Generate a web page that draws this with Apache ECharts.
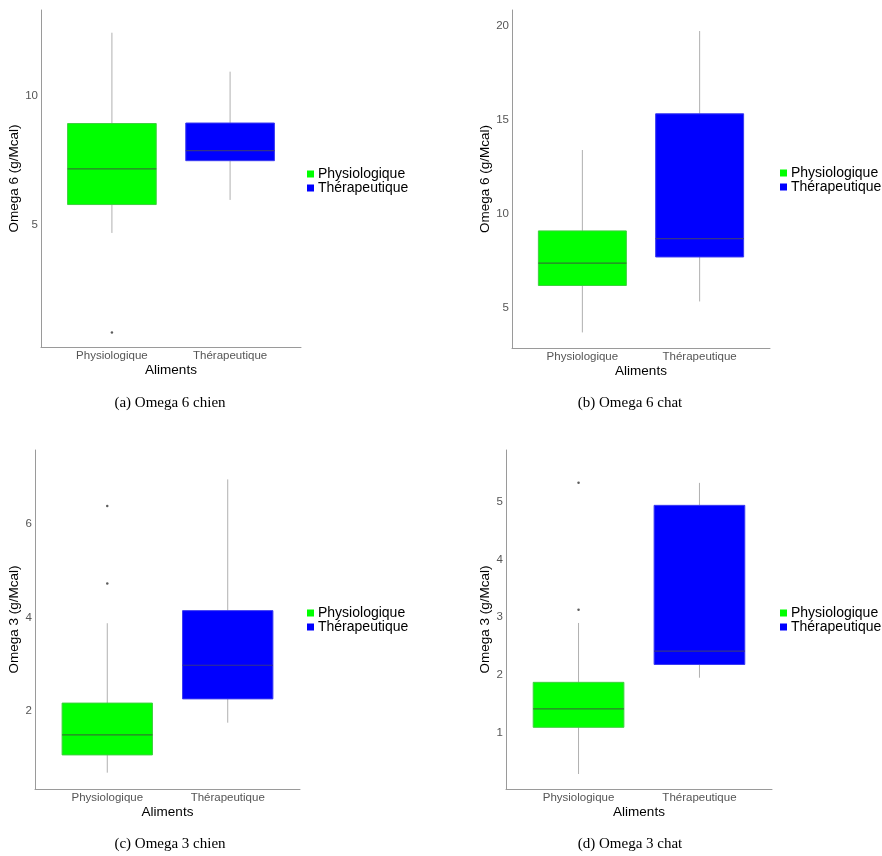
<!DOCTYPE html>
<html>
<head>
<meta charset="utf-8">
<title>Omega 6 / Omega 3</title>
<script src="https://cdn.jsdelivr.net/npm/echarts@6/dist/echarts.min.js"></script>
<style>
  html, body { margin: 0; padding: 0; background: #fff; }
  #chart { width: 882px; height: 856px; }
</style>
</head>
<body>
<div id="chart"></div>
<script>
// catégories d'aliments
const groups = ['Physiologique', 'Thérapeutique']

// stats boxplot : [min, Q1, médiane, Q3, max]
const o6ChienPhysio = [4.69, 5.79, 7.17, 8.93, 12.45]
const o6ChienThera = [5.97, 7.49, 7.88, 8.95, 10.94]
const o6ChienOutliers = [0.83]

const o6ChatPhysio = [3.67, 6.17, 7.36, 9.08, 13.39]
const o6ChatThera = [5.32, 7.69, 8.67, 15.32, 19.73]
const o6ChatOutliers = []

const o3ChienPhysio = [0.68, 1.06, 1.49, 2.17, 3.88]
const o3ChienThera = [1.75, 2.26, 2.98, 4.15, 6.96]
const o3ChienOutliers = [6.39, 4.73]

const o3ChatPhysio = [0.28, 1.09, 1.41, 1.87, 2.90]
const o3ChatThera = [1.95, 2.18, 2.41, 4.94, 5.33]
const o3ChatOutliers = [5.33, 3.13]

// graduations des axes y
const o6ChienTicks = [5, 10]
const o6ChatTicks = [5, 10, 15, 20]
const o3ChienTicks = [2, 4, 6]
const o3ChatTicks = [1, 2, 3, 4, 5]

const captions = ['(a) Omega 6 chien', '(b) Omega 6 chat', '(c) Omega 3 chien', '(d) Omega 3 chat']

const FONT = '"Liberation Sans", Arial, sans-serif'
const GREEN = '#00ff00'
const BLUE = '#0000ff'
const BOX_WIDTH = 0.75

const panels = [
  { physio: o6ChienPhysio, thera: o6ChienThera, outliers: o6ChienOutliers, ticks: o6ChienTicks,
    yName: 'Omega 6 (g/Mcal)', yMin: 0.27, yMax: 13.33,
    grid: { left: 41, top: 10, width: 260, height: 337 }, legend: { left: 307, top: 167 }, caption: [170, 403] },
  { physio: o6ChatPhysio, thera: o6ChatThera, outliers: o6ChatOutliers, ticks: o6ChatTicks,
    yName: 'Omega 6 (g/Mcal)', yMin: 2.84, yMax: 20.85,
    grid: { left: 512, top: 10, width: 258, height: 338 }, legend: { left: 780, top: 166 }, caption: [630, 403] },
  { physio: o3ChienPhysio, thera: o3ChienThera, outliers: o3ChienOutliers, ticks: o3ChienTicks,
    yName: 'Omega 3 (g/Mcal)', yMin: 0.33, yMax: 7.59,
    grid: { left: 35, top: 450, width: 265, height: 339 }, legend: { left: 307, top: 606 }, caption: [170, 844] },
  { physio: o3ChatPhysio, thera: o3ChatThera, outliers: o3ChatOutliers, ticks: o3ChatTicks,
    yName: 'Omega 3 (g/Mcal)', yMin: 0.02, yMax: 5.9,
    grid: { left: 506, top: 450, width: 266, height: 339 }, legend: { left: 780, top: 606 }, caption: [630, 844] },
]

// boîte à moustaches dessinée avec les coordonnées des axes
const renderBox = (params, api) => {
  const x = api.value(0)
  const lo = api.coord([x, api.value(1)])
  const q1 = api.coord([x, api.value(2)])
  const med = api.coord([x, api.value(3)])
  const q3 = api.coord([x, api.value(4)])
  const hi = api.coord([x, api.value(5)])
  const half = api.size([BOX_WIDTH, 0])[0] / 2
  const fill = api.visual('color')
  const isGreen = fill === GREEN
  const whisker = { stroke: '#b0b0b0', lineWidth: 1 }
  return {
    type: 'group',
    children: [
      { type: 'line', shape: { x1: lo[0], y1: lo[1], x2: q1[0], y2: q1[1] }, style: whisker },
      { type: 'line', shape: { x1: q3[0], y1: q3[1], x2: hi[0], y2: hi[1] }, style: whisker },
      {
        type: 'rect',
        shape: { x: q3[0] - half, y: q3[1], width: half * 2, height: q1[1] - q3[1] },
        style: { fill: fill, stroke: isGreen ? '#3fcf3f' : '#3a3af0', lineWidth: 1 },
      },
      {
        type: 'line',
        shape: { x1: med[0] - half, y1: med[1], x2: med[0] + half, y2: med[1] },
        style: { stroke: isGreen ? '#2e7a2e' : '#34348a', lineWidth: 1.2 },
      },
    ],
  }
}

const option = {
  backgroundColor: '#fff',
  animation: false,
  grid: [],
  xAxis: [],
  yAxis: [],
  legend: [],
  series: [],
  graphic: [],
}

panels.forEach((p, i) => {
  option.grid.push(p.grid)
  option.xAxis.push({
    type: 'value',
    gridIndex: i,
    min: 0.4,
    max: 2.6,
    name: 'Aliments',
    nameLocation: 'middle',
    nameGap: 15,
    nameTextStyle: { color: '#000', fontSize: 13.5, fontFamily: FONT },
    axisLine: { show: true, lineStyle: { color: '#9a9a9a', width: 1 } },
    axisTick: { show: false },
    splitLine: { show: false },
    axisLabel: {
      customValues: [1, 2],
      formatter: (v) => groups[Math.round(v) - 1],
      color: '#555',
      fontSize: 11.5,
      fontFamily: FONT,
      margin: 3,
    },
  })
  option.yAxis.push({
    type: 'value',
    gridIndex: i,
    min: p.yMin,
    max: p.yMax,
    name: p.yName,
    nameLocation: 'middle',
    nameGap: 13,
    nameTextStyle: { color: '#000', fontSize: 13.5, fontFamily: FONT },
    axisLine: { show: true, lineStyle: { color: '#9a9a9a', width: 1 } },
    axisTick: { show: false },
    splitLine: { show: false },
    axisLabel: {
      customValues: p.ticks,
      color: '#555',
      fontSize: 11.5,
      fontFamily: FONT,
      margin: 3,
    },
  })
  option.legend.push({
    orient: 'vertical',
    left: p.legend.left,
    top: p.legend.top,
    padding: 0,
    itemGap: 0,
    itemWidth: 7,
    itemHeight: 7,
    icon: 'rect',
    data: groups,
    textStyle: { color: '#000', fontSize: 14, fontFamily: FONT, lineHeight: 14, padding: [0, 0, 0, -1] },
  })
  option.series.push(
    {
      name: groups[0],
      type: 'custom',
      xAxisIndex: i,
      yAxisIndex: i,
      itemStyle: { color: GREEN },
      renderItem: renderBox,
      data: [[1].concat(p.physio)],
    },
    {
      name: groups[1],
      type: 'custom',
      xAxisIndex: i,
      yAxisIndex: i,
      itemStyle: { color: BLUE },
      renderItem: renderBox,
      data: [[2].concat(p.thera)],
    },
    {
      name: 'outliers',
      type: 'scatter',
      xAxisIndex: i,
      yAxisIndex: i,
      symbolSize: 2.5,
      itemStyle: { color: '#333' },
      data: p.outliers.map((v) => [1, v]),
    }
  )
  option.graphic.push({
    type: 'text',
    x: p.caption[0],
    y: p.caption[1],
    style: {
      text: captions[i],
      fill: '#000',
      font: '15px "Liberation Serif", "Times New Roman", serif',
      align: 'center',
      verticalAlign: 'middle',
    },
  })
})

const chart = echarts.init(document.getElementById('chart'))
chart.setOption(option)
</script>
</body>
</html>
